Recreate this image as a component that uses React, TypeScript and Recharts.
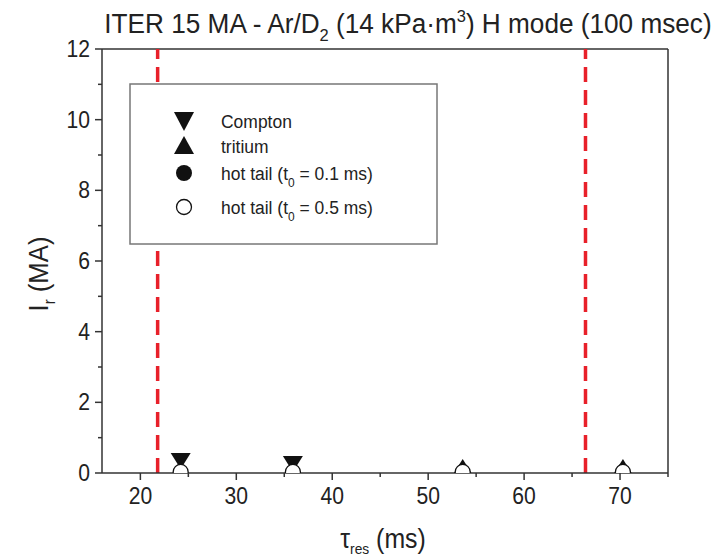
import React from "react";
import { ScatterChart, Scatter, XAxis, YAxis, ReferenceLine } from "recharts";

// tau_res (ms) vs I_r (MA)
const compton = [
  { x: 24.2, y: 0.37 },
  { x: 35.9, y: 0.28 },
];
const tritium = [
  { x: 53.6, y: 0.14 },
  { x: 70.3, y: 0.14 },
];
const hotTail01: { x: number; y: number }[] = [];
const hotTail05 = [
  { x: 24.2, y: 0.03 },
  { x: 35.9, y: 0.03 },
  { x: 53.6, y: 0.03 },
  { x: 70.3, y: 0.03 },
];
const limits = [21.8, 66.4];
const xTicks = [20, 25, 30, 35, 40, 45, 50, 55, 60, 65, 70, 75];
const yTicks = [0, 1, 2, 3, 4, 5, 6, 7, 8, 9, 10, 11, 12];

const FONT = "'Liberation Sans', Arial, sans-serif";
const AXIS = "#333";

const DownTri = (p: any) => (
  <polygon
    points={`${p.cx - 10},${p.cy - 7} ${p.cx + 10},${p.cy - 7} ${p.cx},${p.cy + 9}`}
    fill="#111"
  />
);
const UpTri = (p: any) => (
  <polygon
    points={`${p.cx - 10},${p.cy + 7} ${p.cx + 10},${p.cy + 7} ${p.cx},${p.cy - 9}`}
    fill="#111"
  />
);
const FullDot = (p: any) => <circle cx={p.cx} cy={p.cy} r={7} fill="#111" />;
const OpenDot = (p: any) => (
  <circle cx={p.cx} cy={p.cy} r={7.5} fill="#fff" stroke="#111" strokeWidth={1.3} />
);

const XTick = (p: any) => {
  const major = p.payload.value % 10 === 0;
  return (
    <g>
      <line x1={p.x} x2={p.x} y1={p.y} y2={p.y + (major ? 7 : 4)} stroke={AXIS} strokeWidth={1.5} />
      {major && (
        <text
          transform={`translate(${p.x},${p.y + 31}) scale(0.88,1)`}
          textAnchor="middle"
          fontSize={24}
          fill="#222"
          fontFamily={FONT}
        >
          {p.payload.value}
        </text>
      )}
    </g>
  );
};

const YTick = (p: any) => {
  const major = p.payload.value % 2 === 0;
  return (
    <g>
      <line x1={p.x} x2={p.x - (major ? 7 : 4)} y1={p.y} y2={p.y} stroke={AXIS} strokeWidth={1.5} />
      {major && (
        <text
          transform={`translate(${p.x - 12},${p.y + 8}) scale(0.88,1)`}
          textAnchor="end"
          fontSize={24}
          fill="#222"
          fontFamily={FONT}
        >
          {p.payload.value}
        </text>
      )}
    </g>
  );
};

const legendRows = [
  { label: "Compton", shape: "down" },
  { label: "tritium", shape: "up" },
  { label: "hot tail (t", sub: "0", rest: " = 0.1 ms)", shape: "full" },
  { label: "hot tail (t", sub: "0", rest: " = 0.5 ms)", shape: "open" },
];
const rowY = [121, 146, 173, 207];

const LegendBox = () => (
  <g>
    <rect x={130} y={84} width={307} height={160} fill="#fff" stroke="#777" strokeWidth={1.5} />
    {legendRows.map((r, i) => {
      const cy = rowY[i];
      const cx = 184;
      let mark;
      if (r.shape === "down")
        mark = <polygon points={`${cx - 10},${cy - 9} ${cx + 10},${cy - 9} ${cx},${cy + 10}`} fill="#111" />;
      else if (r.shape === "up")
        mark = <polygon points={`${cx - 10},${cy + 8} ${cx + 10},${cy + 8} ${cx},${cy - 10}`} fill="#111" />;
      else if (r.shape === "full") mark = <circle cx={cx} cy={cy} r={8} fill="#111" />;
      else mark = <circle cx={cx} cy={cy} r={7.5} fill="#fff" stroke="#111" strokeWidth={1.3} />;
      return (
        <g key={i}>
          {mark}
          <text transform={`translate(221,${cy + 7}) scale(0.92,1)`} fontSize={19} fill="#222" fontFamily={FONT}>
            {r.label}
            {r.sub && (
              <tspan fontSize={13} dy={7}>
                {r.sub}
              </tspan>
            )}
            {r.rest && <tspan dy={-7}>{r.rest}</tspan>}
          </text>
        </g>
      );
    })}
  </g>
);

export default function App() {
  return (
    <div style={{ position: "absolute", left: 0, top: 0, width: 715, height: 556, background: "#fff" }}>
      <ScatterChart width={715} height={556} margin={{ top: 49, right: 47, bottom: 53, left: 42 }}>
        <XAxis
          type="number"
          dataKey="x"
          domain={[16, 75]}
          ticks={xTicks}
          interval={0}
          tickLine={false}
          tickSize={0}
          tickMargin={0}
          tick={<XTick />}
          axisLine={{ stroke: AXIS, strokeWidth: 1.5 }}
          height={30}
          allowDataOverflow
        />
        <YAxis
          type="number"
          dataKey="y"
          domain={[0, 12]}
          ticks={yTicks}
          interval={0}
          tickLine={false}
          tickSize={0}
          tickMargin={0}
          tick={<YTick />}
          axisLine={{ stroke: AXIS, strokeWidth: 1.5 }}
          width={60}
          allowDataOverflow
        />
        <ReferenceLine y={12} stroke={AXIS} strokeWidth={1.5} />
        <ReferenceLine x={75} stroke={AXIS} strokeWidth={1.5} />
        {limits.map((v) => (
          <ReferenceLine key={v} x={v} stroke="#e8202a" strokeWidth={3.5} strokeDasharray="15 8" />
        ))}
        <Scatter name="Compton" data={compton} shape={DownTri} isAnimationActive={false} />
        <Scatter name="tritium" data={tritium} shape={UpTri} isAnimationActive={false} />
        <Scatter name="hot tail 0.1" data={hotTail01} shape={FullDot} isAnimationActive={false} />
        <Scatter name="hot tail 0.5" data={hotTail05} shape={OpenDot} isAnimationActive={false} />
      </ScatterChart>
      <svg width={715} height={556} style={{ position: "absolute", left: 0, top: 0, pointerEvents: "none" }}>
        <LegendBox />
        <text
          transform="translate(408,33) scale(0.97,1)"
          textAnchor="middle"
          fontSize={27}
          fill="#222"
          fontFamily={FONT}
        >
          ITER 15 MA - Ar/D
          <tspan fontSize={17} dy={8}>2</tspan>
          <tspan dy={-8}> (14 kPa·m</tspan>
          <tspan fontSize={17} dy={-11}>3</tspan>
          <tspan dy={11}>) H mode (100 msec)</tspan>
        </text>
        <text
          transform="translate(48,274) rotate(-90) scale(0.92,1)"
          textAnchor="middle"
          fontSize={28}
          fill="#222"
          fontFamily={FONT}
        >
          I<tspan fontSize={16} dy={7}>r</tspan>
          <tspan dy={-7}> (MA)</tspan>
        </text>
        <text
          transform="translate(383,548) scale(0.92,1)"
          textAnchor="middle"
          fontSize={27}
          fill="#222"
          fontFamily={FONT}
        >
          τ<tspan fontSize={15} dy={6}>res</tspan>
          <tspan dy={-6}> (ms)</tspan>
        </text>
      </svg>
    </div>
  );
}
